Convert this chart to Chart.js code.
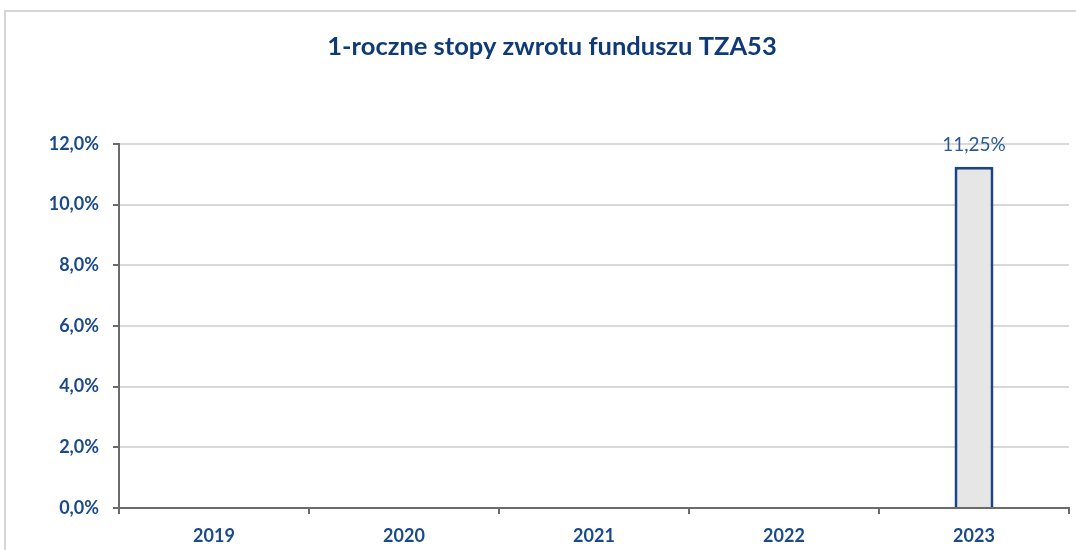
<!DOCTYPE html>
<html lang="pl">
<head>
<meta charset="utf-8">
<title>1-roczne stopy zwrotu funduszu TZA53</title>
<script src="https://cdn.jsdelivr.net/npm/chart.js@4/dist/chart.umd.min.js"></script>
<style>
  html, body { margin: 0; padding: 0; background: #ffffff; }
  .wrap { position: relative; width: 1076px; height: 550px; }
</style>
</head>
<body>
<div class="wrap"><canvas id="returns-chart"></canvas></div>
<script>
const TITLE     = '1-roczne stopy zwrotu funduszu TZA53';
const YEARS     = ['2019', '2020', '2021', '2022', '2023'];
const RETURNS   = [null, null, null, null, 11.25];
const Y_MIN     = 0;
const Y_MAX     = 12;
const Y_STEP    = 2;

const BLUE      = '#1b4a8c';
const AXIS_GREY = '#6b6b6b';
const GRID_GREY = '#d9d9d9';
const FONT      = 'Lato, "Open Sans", sans-serif';

const fmtPct = (v, d) => v.toFixed(d).replace('.', ',') + '%';

// light frame and the title above the plot
const framePlugin = {
  id: 'frameAndTitle',
  beforeDraw(chart) {
    const c = chart.ctx;
    c.save();
    c.strokeStyle = '#d6d6d6';
    c.lineWidth = 2;
    c.strokeRect(5, 11, 1200, 700);
    c.fillStyle = '#0f3a78';
    c.font = `bold 25.5px ${FONT}`;
    c.textAlign = 'center';
    c.textBaseline = 'middle';
    c.fillText(TITLE, 552, 47);
    c.restore();
  }
};

// value labels above bars
const valueLabels = {
  id: 'valueLabels',
  afterDatasetsDraw(chart) {
    const c = chart.ctx;
    const meta = chart.getDatasetMeta(0);
    c.save();
    c.fillStyle = '#2a5897';
    c.font = `19px ${FONT}`;
    c.textAlign = 'center';
    c.textBaseline = 'middle';
    meta.data.forEach((bar, i) => {
      const v = RETURNS[i];
      if (v == null) return;
      c.fillText(fmtPct(v, 2), bar.x, bar.y - 22);
    });
    c.restore();
  }
};

new Chart(document.getElementById('returns-chart'), {
  type: 'bar',
  data: {
    labels: YEARS,
    datasets: [{
      data: RETURNS,
      backgroundColor: '#e6e6e6',
      borderColor: '#1a4683',
      borderWidth: 3,
      barPercentage: 0.205,
      categoryPercentage: 1
    }]
  },
  options: {
    responsive: true,
    maintainAspectRatio: false,
    animation: false,
    layout: { padding: { top: 144, right: 7, left: 0, bottom: 0 } },
    plugins: {
      legend: { display: false },
      tooltip: { enabled: false },
      title: { display: false }
    },
    scales: {
      x: {
        offset: true,
        grid: {
          offset: true,
          drawOnChartArea: false,
          drawTicks: true,
          tickLength: 6,
          tickColor: AXIS_GREY,
          lineWidth: 2
        },
        border: { color: AXIS_GREY, width: 2 },
        ticks: {
          color: BLUE,
          padding: 11,
          font: { family: FONT, size: 18, weight: 'bold' }
        },
        afterFit(scale) { scale.height = 42; }
      },
      y: {
        min: Y_MIN,
        max: Y_MAX,
        ticks: {
          stepSize: Y_STEP,
          color: BLUE,
          padding: 14,
          font: { family: FONT, size: 18, weight: 'bold' },
          callback: v => fmtPct(v, 1)
        },
        grid: {
          color: GRID_GREY,
          lineWidth: 2,
          tickLength: 6,
          tickColor: AXIS_GREY
        },
        border: { color: AXIS_GREY, width: 2 },
        afterFit(scale) { scale.width = 119; }
      }
    }
  },
  plugins: [framePlugin, valueLabels]
});
</script>
</body>
</html>
